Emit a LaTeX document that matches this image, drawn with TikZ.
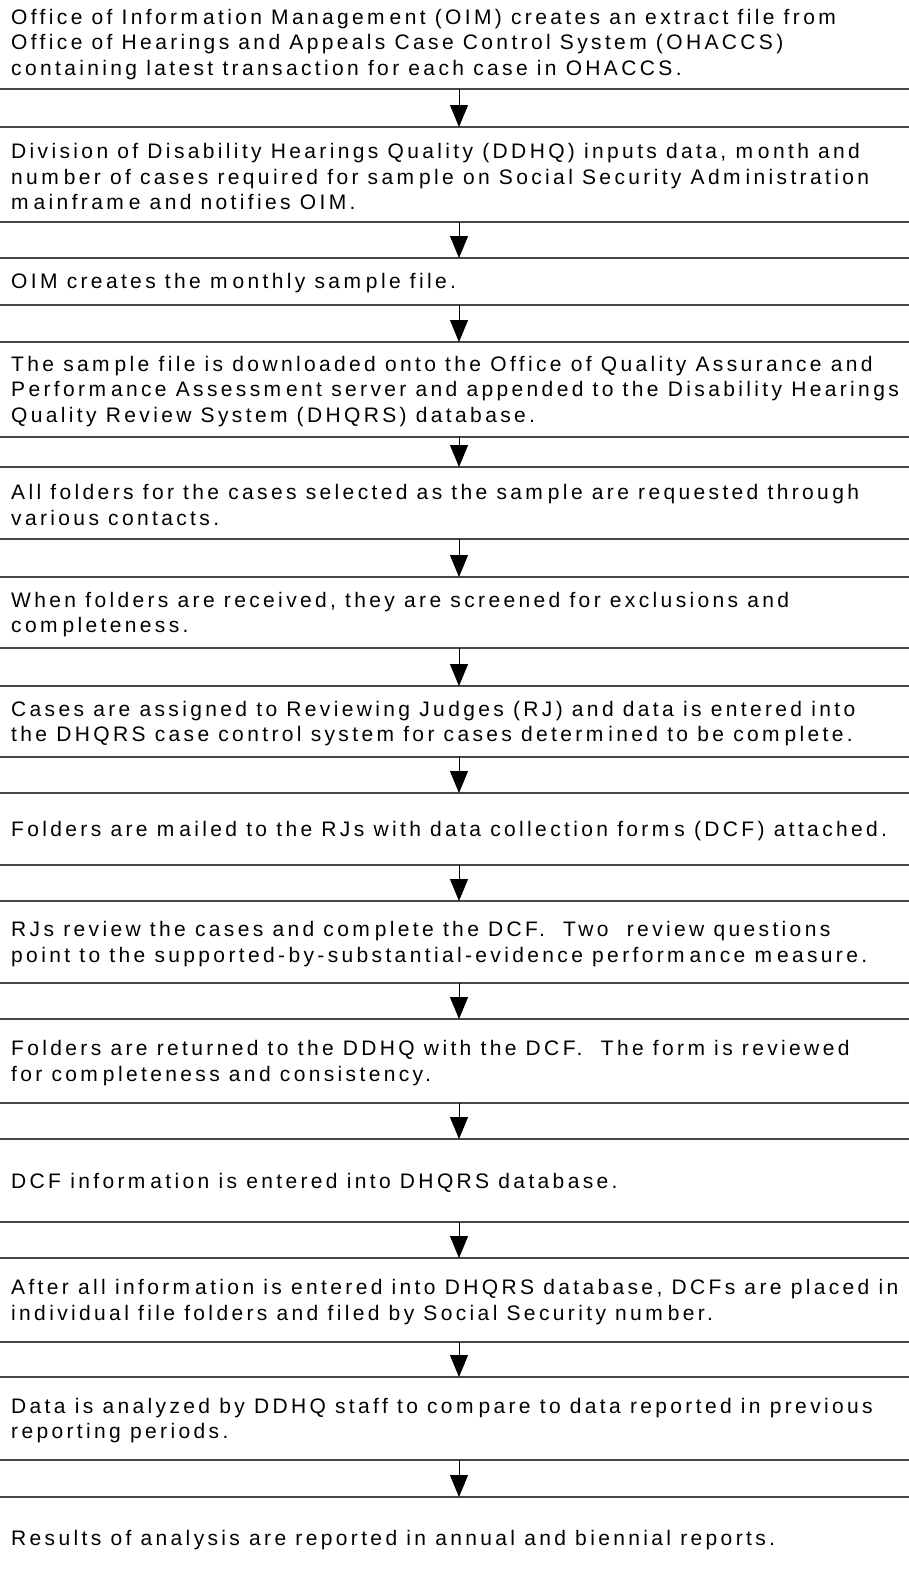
\documentclass[tikz,border=0pt]{standalone}
\usepackage{fontspec}
\setmainfont{Liberation Sans}[LetterSpace=16]
\usetikzlibrary{arrows.meta}
\XeTeXinterchartokenstate=1
\newXeTeXintercharclass\mgapclass
\XeTeXcharclass`m=\mgapclass
\XeTeXinterchartoks\mgapclass 0 = {\kern5pt}
\begin{document}
\begin{tikzpicture}[x=1pt,y=-1pt,
  sep/.style={draw=black!72, line width=1.2pt},
  flow/.style={draw=black, line width=0.9pt, -{Triangle[width=18pt,length=22pt]}},
  txt/.style={anchor=west, inner sep=0pt, align=left, font=\fontsize{21}{25.5}\selectfont}]
\useasboundingbox (0,0) rectangle (909,1572);
\fill[white] (0,0) rectangle (909,1572);

\node[txt] (t1) at (11,44.5) {Office of Information Management (OIM) creates an extract file from\\Office of Hearings and Appeals Case Control System (OHACCS)\\containing latest transaction for each case in OHACCS.};
\node[txt] (t2) at (11,176.5) {Division of Disability Hearings Quality (DDHQ) inputs data, month and\\number of cases required for sample on Social Security Administration\\mainframe and notifies OIM.};
\node[txt] (t3) at (11,283.5) {OIM creates the monthly sample file.};
\node[txt] (t4) at (11,391.5) {The sample file is downloaded onto the Office of Quality Assurance and\\Performance Assessment server and appended to the Disability Hearings\\Quality Review System (DHQRS) database.};
\node[txt] (t5) at (11,505) {All folders for the cases selected as the sample are requested through\\various contacts.};
\node[txt] (t6) at (11,614.5) {When folders are received, they are screened for exclusions and\\completeness.};
\node[txt] (t7) at (11,723.5) {Cases are assigned to Reviewing Judges (RJ) and data is entered into\\the DHQRS case control system for cases determined to be complete.};
\node[txt] (t8) at (11,831) {Folders are mailed to the RJs with data collection forms (DCF) attached.};
\node[txt] (t9) at (11,944) {RJs review the cases and complete the DCF.~ Two~ review questions\\point to the supported-by-substantial-evidence performance measure.};
\node[txt] (t10) at (11,1063) {Folders are returned to the DDHQ with the DCF.~ The form is reviewed\\for completeness and consistency.};
\node[txt] (t11) at (11,1182.5) {DCF information is entered into DHQRS database.};
\node[txt] (t12) at (11,1302) {After all information is entered into DHQRS database, DCFs are placed in\\individual file folders and filed by Social Security number.};
\node[txt] (t13) at (11,1420.5) {Data is analyzed by DDHQ staff to compare to data reported in previous\\reporting periods.};
\node[txt] (t14) at (11,1540) {Results of analysis are reported in annual and biennial reports.};

\foreach \ta/\tb [count=\i] in {89/127,222/258,305/342,437/467,539/577,648/686,757/793,865/901,983/1019,1103/1139,1222/1258,1342/1377,1460/1497}{
  \draw[sep] (0,\ta) -- (909,\ta);
  \draw[sep] (0,\tb) -- (909,\tb);
  \coordinate (u\i) at (459,\ta);
  \coordinate (d\i) at (459,\tb);
  \draw[flow] (u\i) -- (d\i);
}
\end{tikzpicture}
\end{document}
